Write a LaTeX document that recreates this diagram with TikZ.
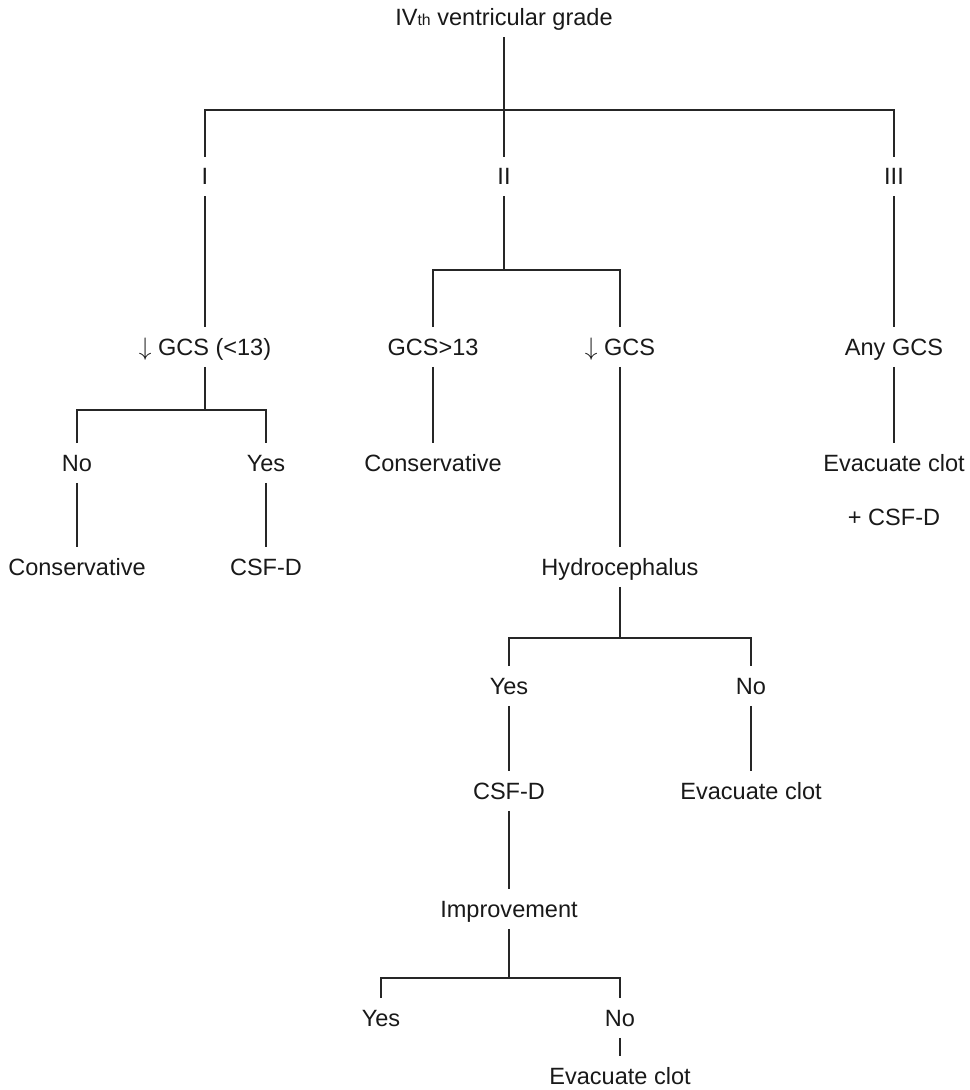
\documentclass[tikz,border=0pt]{standalone}
\usepackage{fontspec}
\setmainfont{Liberation Sans}

\begin{document}
\begin{tikzpicture}[x=0.02cm, y=-0.02cm, line width=0.7pt,
  every node/.style={font=\fontsize{13.4pt}{16pt}\selectfont, text=black!90},
  lbl/.style={inner xsep=0pt, inner ysep=6.2pt, text height=9.6pt, text depth=0pt},
  link/.style={draw=black!85}]
  \useasboundingbox (0,0) rectangle (970,1090);
  % branch points
  \coordinate (j0) at (504,110);
  \coordinate (j1) at (504,270);
  \coordinate (j2) at (205,410);
  \coordinate (j3) at (620,638);
  \coordinate (j4) at (509,978);
  % grades
  \node[lbl] (title) at (504,17.5) {IV{\fontsize{9pt}{10pt}\selectfont th} ventricular grade};
  \node[lbl] (g1) at (205,176.5) {I};
  \node[lbl] (g2) at (504,176.5) {II};
  \node[lbl] (g3) at (894,176.5) {III};
  % GCS
  \node[lbl] (lowa) at (205,347) {$\downarrow$ GCS (<13)};
  \node[lbl] (gt13) at (433,347) {GCS>13};
  \node[lbl] (lowb) at (620,347) {$\downarrow$ GCS};
  \node[lbl] (anyg) at (894,347) {Any GCS};
  \node[lbl] (no1) at (77,463) {No};
  \node[lbl] (yes1) at (266,463) {Yes};
  \node[lbl] (cons2) at (433,463) {Conservative};
  \node[lbl] (evac1) at (894,463) {Evacuate clot};
  \node[lbl] (plus) at (894,517) {+ CSF-D};
  \node[lbl] (cons1) at (77,567) {Conservative};
  \node[lbl] (csf1) at (266,567) {CSF-D};
  \node[lbl] (hydro) at (620,567) {Hydrocephalus};
  % hydrocephalus
  \node[lbl] (yes2) at (509,686) {Yes};
  \node[lbl] (no2) at (751,686) {No};
  \node[lbl] (csf2) at (509,791) {CSF-D};
  \node[lbl] (evac2) at (751,791) {Evacuate clot};
  \node[lbl] (imp) at (509,909) {Improvement};
  \node[lbl] (yes3) at (381,1018) {Yes};
  \node[lbl] (no3) at (620,1018) {No};
  \node[lbl] (evac3) at (620,1076) {Evacuate clot};
  % tree lines
  \draw[link] (title) -- (j0);
  \draw[link] (g1) |- (j0) -| (g3);
  \draw[link] (j0) -- (g2);
  \draw[link] (g1) -- (lowa);
  \draw[link] (g3) -- (anyg);
  \draw[link] (g2) -- (j1);
  \draw[link] (gt13) |- (j1) -| (lowb);
  \draw[link] (lowa) -- (j2);
  \draw[link] (no1) |- (j2) -| (yes1);
  \draw[link] (no1) -- (cons1);
  \draw[link] (yes1) -- (csf1);
  \draw[link] (gt13) -- (cons2);
  \draw[link] (lowb) -- (hydro);
  \draw[link] (anyg) -- (evac1);
  \draw[link] (hydro) -- (j3);
  \draw[link] (yes2) |- (j3) -| (no2);
  \draw[link] (yes2) -- (csf2);
  \draw[link] (no2) -- (evac2);
  \draw[link] (csf2) -- (imp);
  \draw[link] (imp) -- (j4);
  \draw[link] (yes3) |- (j4) -| (no3);
  \draw[link] (no3) -- (evac3);
\end{tikzpicture}
\end{document}
